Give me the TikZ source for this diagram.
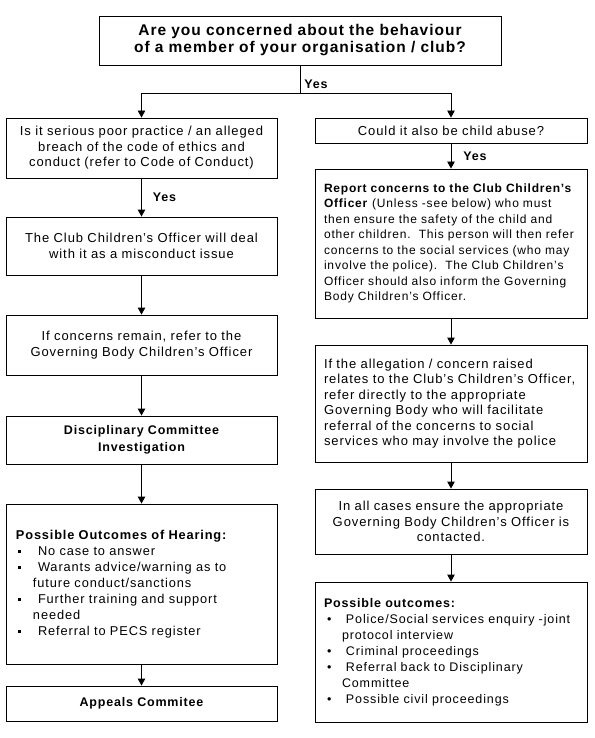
\documentclass[tikz,border=0pt]{standalone}
\usepackage{fontspec}
\setmainfont[LetterSpace=7, BoldFeatures={LetterSpace=6.5}]{Liberation Sans}
\usetikzlibrary{arrows.meta,positioning}

% list items with a hanging indent
\newcommand{\sqitem}[1]{\par\hangindent=17pt\hangafter=1\noindent\hspace*{2pt}\makebox[20pt][l]{\rule[2.5pt]{3.2pt}{3.2pt}}#1\par}
\newcommand{\dotitem}[1]{\par\hangindent=18pt\hangafter=1\noindent\hspace*{3pt}\makebox[19pt][l]{\textbullet}#1\par}

\begin{document}
\begin{tikzpicture}[
        x=1pt, y=-1pt,
        box/.style={draw, line width=0.9pt, inner ysep=0pt,
          font=\fontsize{13}{15.5}\selectfont, align=center},
        lcol/.style={box, inner xsep=10pt, minimum width=271pt, text width=251pt},
        rcol/.style={box, inner xsep=9pt, minimum width=272pt, text width=254pt},
        arr/.style={line width=0.9pt, -{Triangle[width=7.5pt,length=7pt]}},
        yes/.style={font=\bfseries\fontsize{12.5}{14}\selectfont, inner sep=0pt},
      ]
        \useasboundingbox (0,0) rectangle (594,738);

        % question at the top
        \node[box, inner xsep=10pt, minimum width=402pt, minimum height=49pt, text width=382pt,
          font=\bfseries\fontsize{15.5}{17}\selectfont] (concern) at (300,40.5)
          {Are you concerned about the behaviour\\of a member of your organisation / club?};
        \coordinate (split) at (300,93);

        % left column -- conduct
        \node[lcol, minimum height=60pt] (serious) at (141.5,148)
          {Is it serious poor practice / an alleged\\breach of the code of ethics and\\conduct (refer to Code of Conduct)};
        \node[lcol, minimum height=58pt] (misconduct) at (141.5,246)
          {The Club Children's Officer will deal\\with it as a misconduct issue};
        \node[lcol, minimum height=60pt] (remain) at (141.5,345)
          {If concerns remain, refer to the\\Governing Body Children's Officer};
        \node[lcol, minimum height=48pt, font=\bfseries\fontsize{12.5}{16.5}\selectfont] (disc) at (141.5,440)
          {Disciplinary Committee\\Investigation};
        \node[lcol, minimum height=160pt, align=left, font=\fontsize{12.8}{16}\selectfont] (hearing) at (141.5,584)
          {\noindent\textbf{Possible Outcomes of Hearing:}\par
           \sqitem{No case to answer}
           \sqitem{Warants advice/warning as to\newline future conduct/sanctions}
           \sqitem{Further training and support\newline needed}
           \sqitem{Referral to PECS register}};
        \node[lcol, minimum height=35pt, font=\bfseries\fontsize{12.5}{15.5}\selectfont] (appeals) at (141.5,703.5)
          {Appeals Commitee};

        % right column -- child abuse
        \node[rcol, minimum height=25pt] (abuse) at (451,130.5)
          {Could it also be child abuse?};
        \node[rcol, minimum height=149pt, align=left, font=\fontsize{12}{15.5}\selectfont] (report) at (451,243.5)
          {\textbf{Report concerns to the Club Children’s}\\\textbf{Officer} (Unless -see below) who must\\then ensure the safety of the child and\\other children.\ \ This person will then refer\\concerns to the social services (who may\\involve the police).\ \ The Club Children's\\Officer should also inform the Governing\\Body Children's Officer.};
        \node[rcol, minimum height=117pt, align=left] (allegation) at (451,403.5)
          {If the allegation / concern raised\\relates to the Club's Children's Officer,\\refer directly to the appropriate\\Governing Body who will facilitate\\referral of the concerns to social\\services who may involve the police};
        \node[rcol, minimum height=65pt] (allcases) at (451,521.5)
          {In all cases ensure the appropriate\\Governing Body Children's Officer is\\contacted.};
        \node[rcol, minimum height=140pt, align=left, font=\fontsize{12.5}{16}\selectfont] (outcomes) at (451,652)
          {\noindent\textbf{Possible outcomes:}\par
           \dotitem{Police/Social services enquiry -joint\newline protocol interview}
           \dotitem{Criminal proceedings}
           \dotitem{Referral back to Disciplinary\newline Committee}
           \dotitem{Possible civil proceedings}};

        % connectors
        \draw[line width=0.9pt] (concern) -- (split) node[yes, pos=0.68, right, xshift=4pt] (yestop) {Yes};
        \draw[arr] (split) -| (serious);
        \draw[arr] (split) -| (abuse);
        \draw[arr] (serious) -- (misconduct) node[yes, midway, right, xshift=11pt] (yesleft) {Yes};
        \draw[arr] (misconduct) -- (remain);
        \draw[arr] (remain) -- (disc);
        \draw[arr] (disc) -- (hearing);
        \draw[arr] (hearing) -- (appeals);
        \draw[arr] (abuse) -- (report) node[yes, midway, right, xshift=12pt] (yesright) {Yes};
        \draw[arr] (report) -- (allegation);
        \draw[arr] (allegation) -- (allcases);
        \draw[arr] (allcases) -- (outcomes);
      \end{tikzpicture}
\end{document}
